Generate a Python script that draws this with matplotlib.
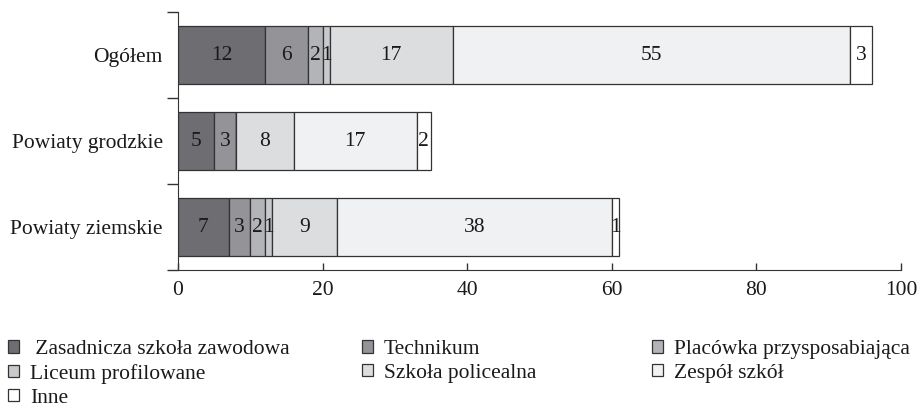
import numpy as np
import matplotlib.pyplot as plt
from matplotlib.patches import Patch

plt.rcParams['font.family'] = ['Liberation Serif', 'DejaVu Serif']

categories = ['Ogółem', 'Powiaty grodzkie', 'Powiaty ziemskie']
series_names = [' Zasadnicza szkoła zawodowa', 'Technikum', 'Placówka przysposabiająca',
                'Liceum profilowane', 'Szkoła policealna', 'Zespół szkół', 'Inne']
zsz = [12, 5, 7]
technikum = [6, 3, 3]
placowka = [2, 0, 2]
liceum = [1, 0, 1]
policealna = [17, 8, 9]
zespol = [55, 17, 38]
inne = [3, 2, 1]
series = [zsz, technikum, placowka, liceum, policealna, zespol, inne]
colors = ['#6e6e72', '#939398', '#b3b4b8', '#c8c9cc', '#dcdddf', '#f0f1f3', '#ffffff']

fig = plt.figure(figsize=(9.21, 4.08), dpi=100)
ax = fig.add_axes([178 / 921, 1 - 270 / 408, (901 - 178) / 921, (270 - 12) / 408])

fs = 15.5
y = np.arange(len(categories))
left = np.zeros(len(categories))
for vals, c in zip(series, colors):
    vals = np.array(vals, dtype=float)
    ax.barh(y, vals, left=left, height=0.67, color=c, edgecolor='#333333', linewidth=0.9)
    for yi, l, v in zip(y, left, vals):
        if v > 0:
            ax.text(l + v / 2, yi, f'{int(v)}', ha='center', va='center', fontsize=fs, color='#1a1a1a')
    left += vals

ax.set_xlim(0, 100)
ax.set_ylim(2.5, -0.5)
ax.set_xticks(np.arange(0, 101, 20))
ax.set_yticks(y)
ax.set_yticklabels(categories)
ax.set_yticks([-0.5, 0.5, 1.5, 2.5], minor=True)
ax.tick_params(axis='y', which='major', length=0, pad=11, labelsize=fs, labelcolor='#1a1a1a')
ax.tick_params(axis='y', which='minor', direction='out', length=8, width=1, color='#333333')
ax.tick_params(axis='x', direction='in', length=5, width=1, color='#333333', labelsize=fs,
               labelcolor='#1a1a1a', pad=8)
for s in ['top', 'right']:
    ax.spines[s].set_visible(False)
for s in ['left', 'bottom']:
    ax.spines[s].set_color('#333333')

handles = [Patch(facecolor=c, edgecolor='#333333', linewidth=0.9, label=n) for c, n in zip(colors, series_names)]
cols = [[0, 3, 6], [1, 4], [2, 5]]
xpos = [-9 / 921, 345 / 921, 635 / 921]
for idx, xp in zip(cols, xpos):
    leg = fig.legend([handles[i] for i in idx], [series_names[i] for i in idx],
                     loc='upper left', bbox_to_anchor=(xp, 1 - 323 / 408), frameon=False,
                     fontsize=fs, handlelength=0.5, handleheight=0.5, handletextpad=0.5,
                     labelspacing=0.22, borderpad=0.3)
    for t in leg.get_texts():
        t.set_color('#1a1a1a')

fig.savefig('out.png', dpi=100)
